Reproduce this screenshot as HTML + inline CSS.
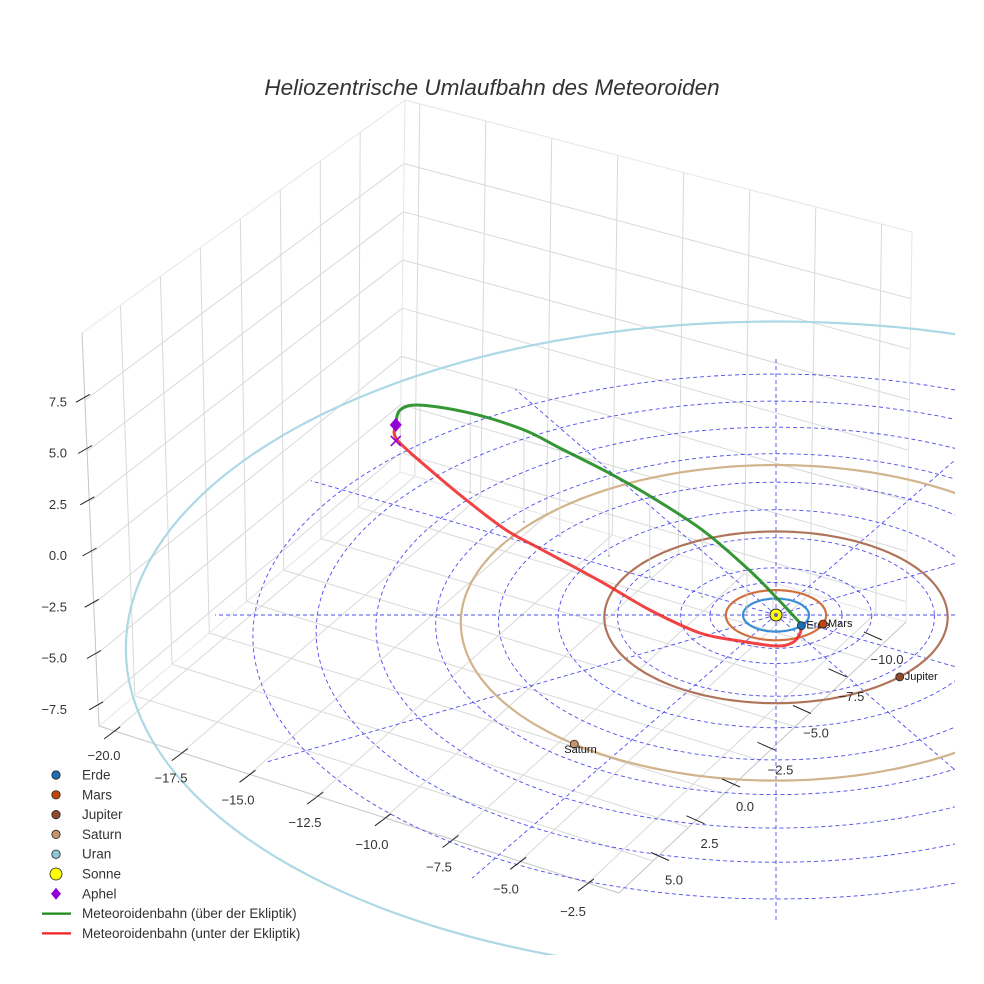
<!DOCTYPE html>
<html><head><meta charset="utf-8"><title>Heliozentrische Umlaufbahn des Meteoroiden</title>
<style>
html,body{margin:0;padding:0;background:#fff;}
svg{display:block;font-family:"Liberation Sans",sans-serif;}
</style></head>
<body>
<svg id="chart" width="984" height="984" viewBox="0 0 984 984" xmlns="http://www.w3.org/2000/svg">
<rect x="0" y="0" width="984" height="984" fill="#fff"/>
<text x="492" y="95" text-anchor="middle" font-size="22.5" font-style="italic" fill="#333">Heliozentrische Umlaufbahn des Meteoroiden</text>
<defs><clipPath id="plotclip"><rect x="0" y="0" width="955" height="955"/></clipPath></defs>
<g id="box"></g>
<g id="plot" clip-path="url(#plotclip)"></g>
<g id="labels"></g>
<g id="legend"></g>
</svg>
<script>
// ---- axis data ----
const xTicks = [-20, -17.5, -15, -12.5, -10, -7.5, -5, -2.5];
const yTicks = [-10, -7.5, -5, -2.5, 0, 2.5, 5];
const zTicks = [-7.5, -5, -2.5, 0, 2.5, 5, 7.5];
const xRange = [-20.56, -1.35];
const yRange = [-12.8, 7.4];
const zRange = [-8.5, 10.8];

// ---- planets ----
const planetNames = ["Erde", "Mars", "Jupiter", "Saturn", "Uran"];
const planetRadii = [1.0, 1.52, 5.2, 9.54, 19.6];
const planetAngles = [40, 21, 45, 128, null];
const orbitColors = ["#3a8fd2", "#d0703f", "#b0745a", "#d2b48c", "#add8e6"];
const markerColors = ["#1f6fb4", "#c4440e", "#8e4a2c", "#c4956c", "#8cc8d8"];

// ---- ecliptic reference grid ----
const ringRadii = [2.0, 2.9, 4.8, 6.6, 8.4, 10.3, 12.1, 13.9, 15.8];
const spokeAngles = [0, 30, 60, 90, 120, 150, 180, 210, 240, 270, 300, 330];
const spokeLength = 17;

// ---- meteoroid orbit (AU, ecliptic coords) ----
const aboveX = [-12.19, -12.04, -11.34, -9.64, -7.87, -6.72, -5.16, -3.87, -2.25, -0.88, -0.09, 0.42, 0.73];
const aboveY = [-11.16, -10.95, -9.87, -7.75, -5.81, -4.91, -3.65, -2.33, -1.10, -0.18, 0.18, 0.42, 0.61];
const aboveZ = [0.85, 1.80, 2.89, 4.11, 4.74, 4.51, 4.23, 4.10, 3.37, 2.20, 1.20, 0.50, 0.10];
const belowX = [-12.19, -12.13, -10.88, -9.67, -8.48, -7.36, -5.46, -3.88, -2.32, -1.09, 0.03, 0.52, 0.73, 0.76];
const belowY = [-11.16, -10.95, -9.67, -8.34, -7.10, -6.26, -4.59, -2.89, -1.34, -0.48, 0.30, 0.55, 0.48, 0.55];
const belowZ = [0.85, 0.21, -0.53, -1.04, -1.45, -1.76, -2.05, -2.13, -2.01, -1.70, -1.30, -0.90, -0.50, -0.05];
const aphel = [-12.19, -11.16, 0.85];

// ---- legend ----
const legendLabels = ["Erde","Mars","Jupiter","Saturn","Uran","Sonne","Aphel","Meteoroidenbahn (über der Ekliptik)","Meteoroidenbahn (unter der Ekliptik)"];
const legendColors = ["#1f6fb4","#c4440e","#8e4a2c","#c4956c","#8cc8d8","#ffff00","#9400d3","#1a8a1a","#ee2222"];
const legendKinds = ["dot","dot","dot","dot","dot","sun","diamond","line","line"];

const NS = "http://www.w3.org/2000/svg";
function mk(tag, attrs, parent){ const e=document.createElementNS(NS,tag); for(const k in attrs) e.setAttribute(k,attrs[k]); parent.appendChild(e); return e; }

const CX=776, CY=615, SX=33, SY=16.5, SZ=20, K=0.0052;
function P(X,Y,Z){ const s=1/(1-K*Y); return [CX+SX*X*s, CY+(SY*Y-SZ*Z)*s]; }

const FL=[99,726], FF=[619,893], FR=[906,622], FB=[400,472], TL=[82,333], TB=[405,100], TR=[912,232];
function bil(c00,c10,c11,c01,u,v){
  return [ (1-u)*(1-v)*c00[0]+u*(1-v)*c10[0]+u*v*c11[0]+(1-u)*v*c01[0],
           (1-u)*(1-v)*c00[1]+u*(1-v)*c10[1]+u*v*c11[1]+(1-u)*v*c01[1] ];
}
const ux = x => (x-xRange[0])/(xRange[1]-xRange[0]);
const uy = y => (yRange[1]-y)/(yRange[1]-yRange[0]);
const uz = z => (z-zRange[0])/(zRange[1]-zRange[0]);

const box=document.getElementById('box');
function gline(a,b,name,col,w){
  const l=mk('line',{x1:a[0].toFixed(1),y1:a[1].toFixed(1),x2:b[0].toFixed(1),y2:b[1].toFixed(1),stroke:col||'#d9d9d9','stroke-width':w||1},box);
  
  
}
const floorP=(u,v)=>bil(FL,FF,FR,FB,u,v);
const leftP=(u,v)=>bil(FL,FB,TB,TL,u,v);
const rightP=(u,v)=>bil(FB,FR,TR,TB,u,v);
xTicks.forEach(x=>{ const u=ux(x); gline(floorP(u,0),floorP(u,1),'floor-gridline-x'); gline(rightP(u,0),rightP(u,1),'wall-gridline-x'); });
yTicks.forEach(y=>{ const v=uy(y); gline(floorP(0,v),floorP(1,v),'floor-gridline-y'); gline(leftP(v,0),leftP(v,1),'wall-gridline-y'); });
zTicks.forEach(z=>{ const v=uz(z); gline(leftP(0,v),leftP(1,v),'left-wall-gridline-z'); gline(rightP(0,v),rightP(1,v),'right-wall-gridline-z'); });
[[FL,FF],[FF,FR],[FR,FB],[FB,FL],[FL,TL],[TL,TB],[TB,FB],[TB,TR],[TR,FR]].forEach(e=>gline(e[0],e[1],'box-edge','#e6e6e6',1));
gline(FL,FF,'x-axis-line','#c8c8c8',1); gline(FF,FR,'y-axis-line','#c8c8c8',1); gline(FL,TL,'z-axis-line','#c8c8c8',1);

const lab=document.getElementById('labels');
function fmt(v){ return (v<0?'\u2212':'')+Math.abs(v).toFixed(1); }
function tickMark(p,d){ const l=mk('line',{x1:(p[0]-d[0]).toFixed(1),y1:(p[1]-d[1]).toFixed(1),x2:(p[0]+d[0]).toFixed(1),y2:(p[1]+d[1]).toFixed(1),stroke:'#222','stroke-width':1},lab);
    }
xTicks.forEach(x=>{
  const p=floorP(ux(x),0);
  tickMark([p[0]-2,p[1]+2],[8,-6]);
  const t=mk('text',{x:(372+26.8*(x+10)).toFixed(1),y:(849+8.9*(x+10)).toFixed(1),'text-anchor':'middle','font-size':13,fill:'#333'},lab);
  t.textContent=fmt(x);
   
});
yTicks.forEach(y=>{
  const lx=745-14.2*y, ly=807+14.7*y;
  tickMark([lx-14,ly-24],[9,4]);
  const t=mk('text',{x:lx.toFixed(1),y:(ly+4).toFixed(1),'text-anchor':'middle','font-size':13,fill:'#333'},lab);
  t.textContent=fmt(y);
   
});
zTicks.forEach(z=>{
  const ly=555-20.5*z;
  const p=leftP(0,uz(z));
  tickMark([p[0]-2,ly-3],[7,-4]);
  const t=mk('text',{x:67,y:(ly+5).toFixed(1),'text-anchor':'end','font-size':13,fill:'#333'},lab);
  t.textContent=fmt(z);
   
});

const plot=document.getElementById('plot');
function path(pts){ return pts.map((p,i)=>(i?'L':'M')+p[0].toFixed(1)+' '+p[1].toFixed(1)).join(''); }
function smooth(pts){
  let d='M'+pts[0][0].toFixed(1)+' '+pts[0][1].toFixed(1);
  for(let i=0;i<pts.length-1;i++){
    const p0=pts[Math.max(i-1,0)], p1=pts[i], p2=pts[i+1], p3=pts[Math.min(i+2,pts.length-1)];
    const c1=[p1[0]+(p2[0]-p0[0])/6, p1[1]+(p2[1]-p0[1])/6];
    const c2=[p2[0]-(p3[0]-p1[0])/6, p2[1]-(p3[1]-p1[1])/6];
    d+='C'+c1[0].toFixed(1)+' '+c1[1].toFixed(1)+' '+c2[0].toFixed(1)+' '+c2[1].toFixed(1)+' '+p2[0].toFixed(1)+' '+p2[1].toFixed(1);
  }
  return d;
}
function circlePts(r){ const a=[]; for(let t=0;t<=360;t+=2){ const th=t*Math.PI/180; a.push(P(r*Math.cos(th), r*Math.sin(th), 0)); } return a; }
ringRadii.forEach(r=>{
  const e=mk('path',{d:path(circlePts(r)),fill:'none',stroke:'#4d4dee','stroke-width':0.9,'stroke-dasharray':'4 3'},plot);
   
});
spokeAngles.forEach(a=>{
  const th=a*Math.PI/180;
  const e=mk('path',{d:path([P(0,0,0),P(spokeLength*Math.cos(th),spokeLength*Math.sin(th),0)]),fill:'none',stroke:'#4d4dee','stroke-width':0.9,'stroke-dasharray':'4 3'},plot);
   
});
planetRadii.forEach((r,i)=>{
  const e=mk('path',{d:path(circlePts(r)),fill:'none',stroke:orbitColors[i],'stroke-width':2.2},plot);
   
});
aboveX.forEach((x,i)=>{
  const a=P(x,aboveY[i],aboveZ[i]), b=P(x,aboveY[i],0);
  const l=mk('line',{x1:a[0].toFixed(1),y1:a[1].toFixed(1),x2:b[0].toFixed(1),y2:b[1].toFixed(1),stroke:'#cfcfcf','stroke-width':0.8},plot);
   
  const d=mk('circle',{cx:b[0].toFixed(1),cy:b[1].toFixed(1),r:1,fill:'#aaa'},plot);
   
});
const gpts=aboveX.map((x,i)=>P(x,aboveY[i],aboveZ[i]));
const rpts=belowX.map((x,i)=>P(x,belowY[i],belowZ[i]));
const gp=mk('path',{d:smooth(gpts),fill:'none',stroke:'#1f8c1f','stroke-width':3,'stroke-linejoin':'round','stroke-linecap':'round','stroke-opacity':0.9},plot);
 
const rp=mk('path',{d:smooth(rpts),fill:'none',stroke:'#ee2222','stroke-width':3,'stroke-linejoin':'round','stroke-linecap':'round','stroke-opacity':0.85},plot);
 
const ap=P(aphel[0],aphel[1],aphel[2]), ap0=P(aphel[0],aphel[1],0);
const ax=mk('path',{d:`M${ap0[0]-5} ${ap0[1]-5}L${ap0[0]+5} ${ap0[1]+5}M${ap0[0]-5} ${ap0[1]+5}L${ap0[0]+5} ${ap0[1]-5}`,stroke:'#9400d3','stroke-width':1.5},plot);
 
const ad=mk('path',{d:`M${ap[0]} ${ap[1]-7}L${ap[0]+6} ${ap[1]}L${ap[0]} ${ap[1]+7}L${ap[0]-6} ${ap[1]}Z`,fill:'#9400d3'},plot);
 
const sp=P(0,0,0);
const sun=mk('circle',{cx:sp[0],cy:sp[1],r:6,fill:'#ffff00',stroke:'#222','stroke-width':1},plot);
 
const sunc=mk('circle',{cx:sp[0],cy:sp[1],r:2,fill:'#6666aa'},plot);
 
planetRadii.forEach((r,i)=>{
  if(planetAngles[i]===null) return;
  const th=planetAngles[i]*Math.PI/180; const p=P(r*Math.cos(th), r*Math.sin(th), 0);
  const c=mk('circle',{cx:p[0].toFixed(1),cy:p[1].toFixed(1),r:4,fill:markerColors[i],stroke:'#222','stroke-width':0.8},plot);
   
  const t=mk('text',{x:(p[0]+(i===3?-10:5)).toFixed(1),y:(p[1]+(i===3?9:3)).toFixed(1),'font-size':11,fill:'#111'},plot);
  t.textContent=planetNames[i];
   
});

const lg=document.getElementById('legend');
legendLabels.forEach((s,i)=>{
  const y=775+19.8*i;
  let m;
  if(legendKinds[i]==='dot') m=mk('circle',{cx:56,cy:y,r:4.2,fill:legendColors[i],stroke:'#222','stroke-width':0.8},lg);
  else if(legendKinds[i]==='sun') m=mk('circle',{cx:56,cy:y,r:6,fill:legendColors[i],stroke:'#222','stroke-width':0.8},lg);
  else if(legendKinds[i]==='diamond') m=mk('path',{d:`M56 ${y-6}L61 ${y}L56 ${y+6}L51 ${y}Z`,fill:legendColors[i]},lg);
  else m=mk('line',{x1:42,y1:y,x2:71,y2:y,stroke:legendColors[i],'stroke-width':2.2},lg);
   
  const t=mk('text',{x:82,y:y+4.5,'font-size':13.5,fill:'#333'},lg);
  t.textContent=s;
   
});
</script>
</body></html>
